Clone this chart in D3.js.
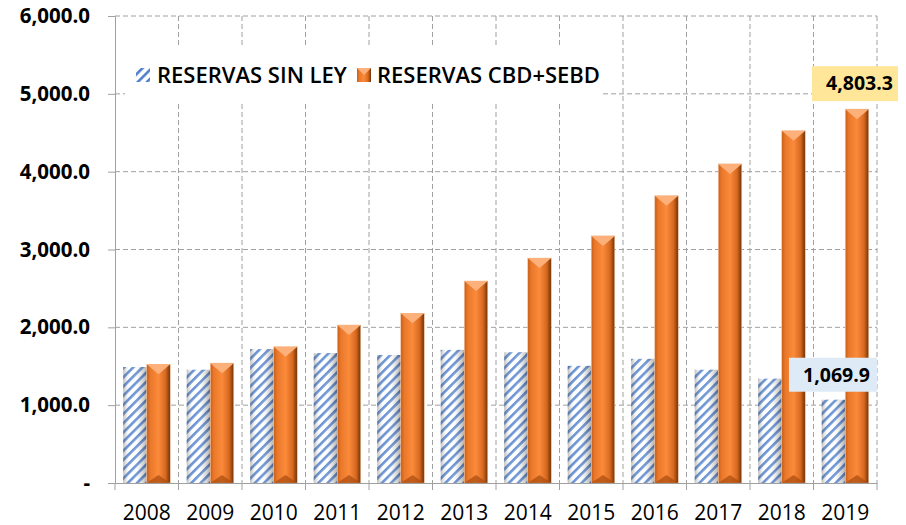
<!DOCTYPE html>
<html>
<head>
<meta charset="utf-8">
<script src="https://cdn.jsdelivr.net/npm/d3@7"></script>
<style>
  body { margin: 0; background: #fff; }
  svg text { font-family: "Open Sans", sans-serif; }
</style>
</head>
<body>
<div id="chart"></div>
<script>
const years = ["2008", "2009", "2010", "2011", "2012", "2013", "2014", "2015", "2016", "2017", "2018", "2019"];
const sinLey = [1490, 1455, 1720, 1670, 1645, 1710, 1680, 1505, 1595, 1455, 1340, 1069.9];
const cbdSebd = [1525, 1540, 1750, 2030, 2180, 2595, 2890, 3175, 3690, 4100, 4525, 4803.3];
const yTicks = [0, 1000, 2000, 3000, 4000, 5000, 6000];
const seriesNames = ["RESERVAS SIN LEY", "RESERVAS CBD+SEBD"];

const W = 906, H = 525;
const margin = { top: 16, right: 29, bottom: 42, left: 115 };
const w = W - margin.left - margin.right;
const h = H - margin.top - margin.bottom;

const svg = d3.select("#chart").append("svg")
    .attr("width", W)
    .attr("height", H);

// patterns and gradients
const defs = svg.append("defs");

const hatch = defs.append("pattern")
    .attr("id", "hatch")
    .attr("patternUnits", "userSpaceOnUse")
    .attr("width", 6.5).attr("height", 6.5)
    .attr("patternTransform", "rotate(45)");
hatch.append("rect").attr("width", 6.5).attr("height", 6.5).attr("fill", "#fff");
hatch.append("rect").attr("width", 2.6).attr("height", 6.5).attr("fill", "#4f80cc");

const shade = defs.append("linearGradient").attr("id", "shade");
shade.append("stop").attr("offset", "0%").attr("stop-color", "#555").attr("stop-opacity", 0.4);
shade.append("stop").attr("offset", "25%").attr("stop-color", "#fff").attr("stop-opacity", 0.15);
shade.append("stop").attr("offset", "55%").attr("stop-color", "#fff").attr("stop-opacity", 0.2);
shade.append("stop").attr("offset", "100%").attr("stop-color", "#333").attr("stop-opacity", 0.4);

const orange = defs.append("linearGradient").attr("id", "orange");
orange.append("stop").attr("offset", "0%").attr("stop-color", "#c85d14");
orange.append("stop").attr("offset", "15%").attr("stop-color", "#e9782b");
orange.append("stop").attr("offset", "50%").attr("stop-color", "#fb8a3a");
orange.append("stop").attr("offset", "80%").attr("stop-color", "#d7691f");
orange.append("stop").attr("offset", "100%").attr("stop-color", "#6e3208");

const g = svg.append("g")
    .attr("transform", "translate(" + margin.left + "," + margin.top + ")");

const x = d3.scaleBand().domain(years).range([0, w]).paddingInner(0).paddingOuter(0);
const x1 = d3.scaleBand().domain([0, 1]).range([0, x.bandwidth()]).paddingOuter(0.35).paddingInner(0);
const y = d3.scaleLinear().domain([0, 6000]).range([h, 0]);

// gridlines
g.append("g").selectAll("line")
    .data(yTicks.slice(1))
    .enter().append("line")
    .attr("x1", 0).attr("x2", w)
    .attr("y1", d => y(d)).attr("y2", d => y(d))
    .attr("stroke", "#a0a0a0").attr("stroke-dasharray", "5,3");

g.append("g").selectAll("line")
    .data(d3.range(1, years.length + 1))
    .enter().append("line")
    .attr("x1", d => d * x.step())
    .attr("x2", d => d * x.step())
    .attr("y1", 0).attr("y2", h)
    .attr("stroke", "#a0a0a0").attr("stroke-dasharray", "5,3");

// legend backdrop
const legend = g.append("g").attr("transform", "translate(10,31)");
legend.append("rect")
    .attr("x", 0).attr("y", 0).attr("width", 478).attr("height", 54)
    .attr("fill", "#fff");

// bars
const bw = x1.bandwidth();
const groups = g.selectAll("g.year")
    .data(years)
    .enter().append("g")
    .attr("class", "year")
    .attr("transform", d => "translate(" + x(d) + ",0)");

groups.append("rect")
    .attr("x", x1(0)).attr("width", bw)
    .attr("y", (d, i) => y(sinLey[i]))
    .attr("height", (d, i) => h - y(sinLey[i]))
    .attr("fill", "url(#hatch)");
groups.append("rect")
    .attr("x", x1(0)).attr("width", bw)
    .attr("y", (d, i) => y(sinLey[i]))
    .attr("height", (d, i) => h - y(sinLey[i]))
    .attr("fill", "url(#shade)");

groups.append("rect")
    .attr("x", x1(1)).attr("width", bw)
    .attr("y", (d, i) => y(cbdSebd[i]))
    .attr("height", (d, i) => h - y(cbdSebd[i]))
    .attr("fill", "url(#orange)")
    .attr("stroke", "#f4c9a8").attr("stroke-width", 0.6);

// top bevel of orange bars
groups.append("path")
    .attr("d", (d, i) => {
        const x0 = x1(1), yt = y(cbdSebd[i]);
        return "M" + x0 + "," + yt + "L" + (x0 + bw) + "," + yt + "L" + (x0 + bw / 2) + "," + (yt + 10) + "Z";
    })
    .attr("fill", "#fdb07a");
groups.append("path")
    .attr("d", (d, i) => {
        const x0 = x1(1), yb = h;
        return "M" + x0 + "," + yb + "L" + (x0 + bw) + "," + yb + "L" + (x0 + bw / 2) + "," + (yb - 8) + "Z";
    })
    .attr("fill", "#a94c10").attr("opacity", 0.7);

// axes
const yAxis = g.append("g")
    .call(d3.axisLeft(y).tickValues(yTicks).tickSize(7).tickPadding(18)
        .tickFormat(d => d === 0 ? "-" : d3.format(",.1f")(d)));
yAxis.select(".domain").attr("stroke", "#a0a0a0");
yAxis.selectAll(".tick line").attr("stroke", "#a0a0a0");
yAxis.selectAll("text")
    .attr("font-size", 20.5).attr("font-weight", "bold").attr("fill", "#000");

const xAxis = g.append("g")
    .attr("transform", "translate(0," + h + ")")
    .call(d3.axisBottom(x).tickSize(0).tickPadding(22));
xAxis.select(".domain").attr("stroke", "#a0a0a0");
xAxis.selectAll("text").attr("font-size", 21).attr("fill", "#000");

g.append("g").selectAll("line")
    .data(d3.range(years.length + 1))
    .enter().append("line")
    .attr("x1", d => d * x.step()).attr("x2", d => d * x.step())
    .attr("y1", h).attr("y2", h + 7)
    .attr("stroke", "#a0a0a0");

// legend items
legend.append("rect")
    .attr("x", 11).attr("y", 21).attr("width", 14).attr("height", 14)
    .attr("fill", "url(#hatch)");
legend.append("text")
    .attr("x", 32).attr("y", 36)
    .attr("font-size", 22).attr("font-weight", 600)
    .text(seriesNames[0]);
legend.append("rect")
    .attr("x", 232).attr("y", 21).attr("width", 14).attr("height", 14)
    .attr("fill", "url(#orange)");
legend.append("path")
    .attr("d", "M232,21L246,21L239,28Z").attr("fill", "#fdb07a");
legend.append("text")
    .attr("x", 252).attr("y", 36)
    .attr("font-size", 22).attr("font-weight", 600)
    .text(seriesNames[1]);

// data labels for last year
const last = years.length - 1;
const lblMax = g.append("g")
    .attr("transform", "translate(" + (x(years[last]) + x1(1) + bw / 2) + "," + (y(cbdSebd[last]) - 26) + ")");
lblMax.append("rect")
    .attr("x", -45).attr("y", -17).attr("width", 86).attr("height", 35)
    .attr("fill", "#ffe699");
lblMax.append("text")
    .attr("x", 2.5).attr("y", 7).attr("text-anchor", "middle")
    .attr("font-size", 19.5).attr("font-weight", "bold")
    .text(d3.format(",.1f")(cbdSebd[last]));

const lblMin = g.append("g")
    .attr("transform", "translate(" + (x(years[last]) + x1(0) + bw / 2) + "," + (y(sinLey[last]) - 25) + ")");
lblMin.append("rect")
    .attr("x", -44.5).attr("y", -17).attr("width", 88).attr("height", 34)
    .attr("fill", "#deebf7");
lblMin.append("text")
    .attr("x", 3).attr("y", 7).attr("text-anchor", "middle")
    .attr("font-size", 19.5).attr("font-weight", "bold")
    .text(d3.format(",.1f")(sinLey[last]));
</script>
</body>
</html>
